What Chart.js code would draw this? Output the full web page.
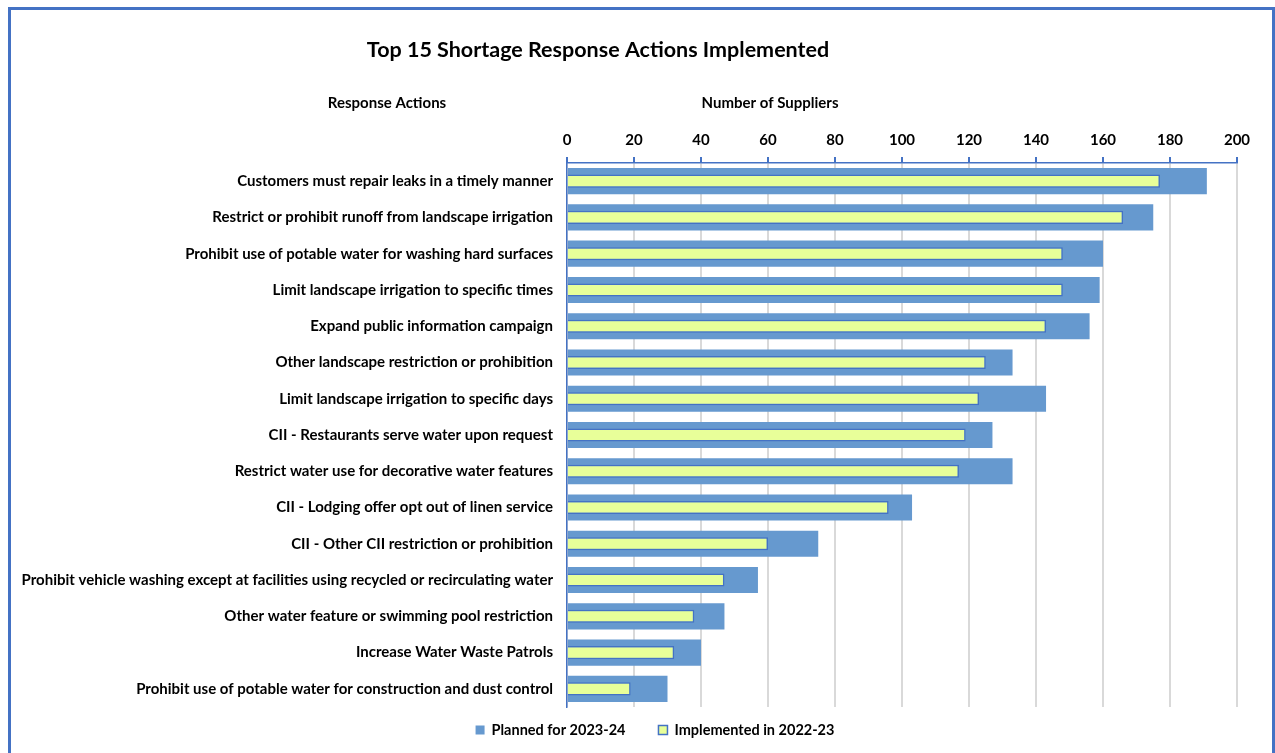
<!DOCTYPE html>
<html>
<head>
<meta charset="utf-8">
<script src="https://cdn.jsdelivr.net/npm/chart.js@4"></script>
<style>
  html, body { margin: 0; padding: 0; background: #fff; }
  #wrap { position: relative; width: 1275px; height: 753px; overflow: hidden; }
  #frame { position: absolute; left: 8px; top: 7px; width: 1267px; height: 800px;
           border: 3px solid #4472C4; pointer-events: none; box-sizing: border-box; }
</style>
</head>
<body>
<div id="wrap">
  <canvas id="chart" width="1275" height="753"></canvas>
  <div id="frame"></div>
</div>
<script>
// categories, top to bottom
const actions = [
  'Customers must repair leaks in a timely manner',
  'Restrict or prohibit runoff from landscape irrigation',
  'Prohibit use of potable water for washing hard surfaces',
  'Limit landscape irrigation to specific times',
  'Expand public information campaign',
  'Other landscape restriction or prohibition',
  'Limit landscape irrigation to specific days',
  'CII - Restaurants serve water upon request',
  'Restrict water use for decorative water features',
  'CII - Lodging offer opt out of linen service',
  'CII - Other CII restriction or prohibition',
  'Prohibit vehicle washing except at facilities using recycled or recirculating water',
  'Other water feature or swimming pool restriction',
  'Increase Water Waste Patrols',
  'Prohibit use of potable water for construction and dust control'
];

const planned2324 = [191, 175, 160, 159, 156, 133, 143, 127, 133, 103, 75, 57, 47, 40, 30];
const implemented2223 = [177, 166, 148, 148, 143, 125, 123, 119, 117, 96, 60, 47, 38, 32, 19];

const FONT = 'Lato, "Open Sans", sans-serif';

// title, axis captions and legend drawn on the canvas
const captions = {
  id: 'captions',
  afterDraw(chart) {
    const ctx = chart.ctx;
    const area = chart.chartArea;
    ctx.save();
    ctx.fillStyle = '#000';
    ctx.textBaseline = 'middle';
    ctx.textAlign = 'center';
    ctx.font = 'bold 21.5px ' + FONT;
    ctx.fillText('Top 15 Shortage Response Actions Implemented', 598, 50);
    ctx.font = 'bold 15px ' + FONT;
    ctx.fillText('Response Actions', 387, 103);
    ctx.fillText('Number of Suppliers', area.left + 203, 103);

    // legend, in the order the datasets are listed
    ctx.font = 'bold 14.5px ' + FONT;
    ctx.textAlign = 'left';
    const y = area.bottom + 23;
    const items = chart.data.datasets.map(ds => ({ ds, w: ctx.measureText(ds.label).width }));
    const total = items.reduce((s, it) => s + 9 + 7 + it.w, 0) + 33 * (items.length - 1);
    let x = 655 - total / 2;
    items.forEach(({ ds, w }) => {
      ctx.fillStyle = ds.backgroundColor;
      ctx.fillRect(x, y - 4.5, 9, 9);
      if (ds.borderWidth) {
        ctx.strokeStyle = ds.borderColor;
        ctx.lineWidth = 1.5;
        ctx.strokeRect(x, y - 4.5, 9, 9);
      }
      ctx.fillStyle = '#000';
      ctx.fillText(ds.label, x + 16, y);
      x += 16 + w + 33;
    });
    ctx.restore();
  }
};

new Chart(document.getElementById('chart'), {
  type: 'bar',
  data: {
    labels: actions,
    datasets: [
      {
        label: 'Planned for 2023-24',
        data: planned2324,
        backgroundColor: '#6699CF',
        borderWidth: 0,
        barPercentage: 0.72,
        categoryPercentage: 1,
        order: 2
      },
      {
        label: 'Implemented in 2022-23',
        data: implemented2223,
        backgroundColor: '#E8FF99',
        borderColor: '#4472C4',
        borderWidth: 1.5,
        barPercentage: 0.36,
        categoryPercentage: 1,
        order: 1
      }
    ]
  },
  options: {
    indexAxis: 'y',
    responsive: false,
    animation: false,
    layout: { padding: { left: 10, right: 38, top: 100, bottom: 46 } },
    plugins: {
      title: { display: false },
      tooltip: { enabled: false },
      legend: { display: false }
    },
    scales: {
      x: {
        position: 'top',
        min: 0,
        max: 200,
        ticks: {
          stepSize: 20,
          padding: 8,
          color: '#000',
          font: { family: FONT, size: 15, weight: 'bold' }
        },
        grid: {
          color: '#D9D9D9',
          lineWidth: 2,
          tickColor: '#4472C4',
          tickLength: 6
        },
        border: { color: '#4472C4', width: 1.5 },
        afterFit(scale) { scale.height = 63; }
      },
      y: {
        ticks: {
          padding: 14,
          color: '#000',
          font: { family: FONT, size: 15, weight: 'bold' }
        },
        grid: { drawOnChartArea: false, drawTicks: false },
        border: { color: '#4472C4', width: 1.5 },
        afterFit(scale) { scale.width = 557; }
      }
    },
    datasets: { bar: { grouped: false } }
  },
  plugins: [captions]
});
</script>
</body>
</html>
